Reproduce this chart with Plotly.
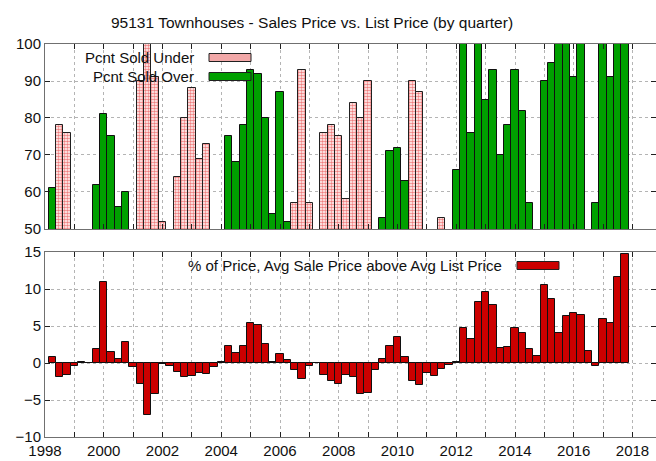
import plotly.graph_objects as go
from plotly.subplots import make_subplots

# one entry per quarter, 1998 Q1 .. 2017 Q3
quarters = [f"{y}-Q{q}" for y in range(1998, 2018) for q in range(1, 5)][:79]

pct_under = [
    None, 78, 76, None, None, None, None, None, None, None,
    None, None, 90, 100, 91, 52, None, 64, 80, 88,
    69, 73, None, None, None, None, None, None, None, None,
    None, None, None, 57, 93, 57, None, 76, 78, 75,
    58, 84, 80, 90, None, None, None, None, None, 90,
    87, None, None, 53, None, None, None, None, None, None,
    None, None, None, None, None, None, None, None, None, None,
    None, None, None, None, None, None, None, None, None,
]
pct_over = [
    61, None, None, None, None, None, 62, 81, 75, 56,
    60, None, None, None, None, None, None, None, None, None,
    None, None, None, None, 75, 68, 78, 93, 92, 80,
    54, 87, 52, None, None, None, None, None, None, None,
    None, None, None, None, None, 53, 71, 72, 63, None,
    None, None, None, None, None, 66, 100, 76, 100, 85,
    93, 70, 78, 93, 82, 57, None, 90, 95, 100,
    100, 91, 100, None, 57, 100, 91, 100, 100,
]
pct_above_list = [
    0.8, -1.9, -1.6, -0.4, 0.1, 0.0, 1.9, 11.0, 1.5, 0.5,
    2.9, -0.5, -2.9, -7.0, -4.2, -0.1, -0.4, -1.2, -1.9, -1.7,
    -1.4, -1.5, -0.6, 0.1, 2.3, 1.4, 2.3, 5.4, 5.2, 2.6,
    0.2, 1.2, 0.4, -1.0, -2.1, -0.4, -0.05, -1.6, -2.5, -2.9,
    -1.6, -1.9, -4.2, -4.0, -1.0, 0.5, 2.3, 3.5, 0.8, -2.5,
    -3.0, -1.3, -1.7, -0.8, -0.3, 0.2, 4.7, 3.2, 8.3, 9.6,
    7.8, 2.0, 2.2, 4.7, 4.0, 1.9, 1.0, 10.5, 8.7, 4.1,
    6.3, 6.8, 6.5, 1.6, -0.4, 5.9, 5.4, 11.6, 14.7,
]
x = [int(q[:4]) + int(q[-1]) * 0.25 for q in quarters]

font = "Liberation Sans, Arial, sans-serif"
W = 0.25

fig = make_subplots(rows=2, cols=1, shared_xaxes=False, vertical_spacing=0.0)

fig.add_trace(go.Bar(
    x=x, y=pct_under, width=W, name="Pcnt Sold Under",
    marker=dict(color="white", line=dict(color="#202020", width=1),
                pattern=dict(shape=".", fgcolor="#e00000", bgcolor="white", size=3, solidity=0.55)),
), row=1, col=1)
fig.add_trace(go.Bar(
    x=x, y=pct_over, width=W, name="Pcnt Sold Over",
    marker=dict(color="#00a000", line=dict(color="#101010", width=1)),
), row=1, col=1)
fig.add_trace(go.Bar(
    x=x, y=pct_above_list, width=W, name="% of Price, Avg Sale Price above Avg List Price",
    marker=dict(color="#cc0000", line=dict(color="#101010", width=1)),
), row=2, col=1)

years = list(range(1998, 2019))
xcommon = dict(range=[1998, 2018.8], tickvals=years, ticks="inside", ticklen=5,
               tickcolor="#202020", showline=True, linecolor="#707070", mirror="ticks",
               showgrid=True, gridcolor="#b4b4b4", griddash="dot", gridwidth=1, zeroline=False,
               tickfont=dict(size=15))
fig.update_xaxes(**xcommon, showticklabels=False, row=1, col=1)
fig.update_xaxes(**xcommon, ticktext=[str(y) if y % 2 == 0 else "" for y in years],
                 row=2, col=1)
ycommon = dict(ticks="inside", ticklen=5, tickcolor="#202020", showline=True,
               linecolor="#707070", mirror="ticks", showgrid=True, gridcolor="#b4b4b4",
               griddash="dot", zeroline=False, tickfont=dict(size=15))
fig.update_yaxes(**ycommon, range=[50, 100], tickvals=[50, 60, 70, 80, 90, 100], row=1, col=1)
fig.update_yaxes(**ycommon, range=[-10, 15], tickvals=[-10, -5, 0, 5, 10, 15], row=2, col=1)

fig.update_layout(
    width=656, height=461, showlegend=False, barmode="overlay", bargap=0,
    margin=dict(l=45, r=0, t=44, b=24, autoexpand=False),
    paper_bgcolor="white", plot_bgcolor="white",
    font=dict(family=font, size=15, color="#101010"),
)
fig.layout.yaxis.domain = [0.5293, 1.0]
fig.layout.yaxis2.domain = [0.0, 0.4707]

fig.add_annotation(text="95131 Townhouses - Sales Price vs. List Price (by quarter)",
                   xref="paper", yref="paper", x=(312 - 45) / 611, y=1.0, yshift=22,
                   yanchor="middle", showarrow=False, font=dict(size=15.5))

# hand-drawn gnuplot style legend keys
legend = [
    ("Pcnt Sold Under", 57.5, "#f2a8a8"),
    ("Pcnt Sold Over", 76.5, "#00a000"),
    ("% of Price, Avg Sale Price above Avg List Price", 265.5, "#cc0000"),
]
for text, ypix, col in legend:
    right = 504 if text.startswith("%") else 196
    key_x0 = right + 13
    fig.add_annotation(text=text, xref="paper", yref="paper",
                       x=(right - 45) / 611, y=1 - (ypix - 44) / 393,
                       xanchor="right", yanchor="middle", showarrow=False)
    fig.add_shape(type="rect", xref="paper", yref="paper",
                  x0=(key_x0 - 45) / 611, x1=(key_x0 + 42 - 45) / 611,
                  y0=1 - (ypix + 4 - 44) / 393, y1=1 - (ypix - 4 - 44) / 393,
                  fillcolor=col, line=dict(color="#202020", width=1))

fig.write_html("out.html", config={"displayModeBar": False},
               post_script="document.body.style.margin='0';")
